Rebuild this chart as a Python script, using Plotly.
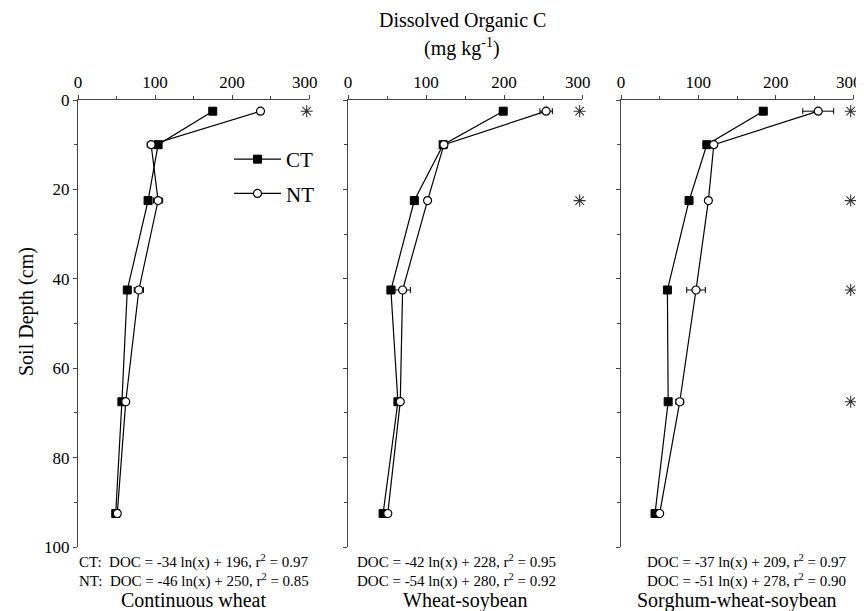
import plotly.graph_objects as go

# ---- data ----
depths = [2.5, 10, 22.5, 42.5, 67.5, 92.5]

panels = ["Continuous wheat", "Wheat-soybean", "Sorghum-wheat-soybean"]

ct_vals = [
    [175, 104, 91, 64, 57, 49],
    [199, 122, 85, 55, 64, 45],
    [184, 111, 88, 60, 61, 44],
]
nt_vals = [
    [237, 95, 104, 79, 62, 51],
    [254, 123, 102, 70, 67, 51],
    [255, 120, 113, 97, 76, 50],
]
ct_err = [
    [2, 3, 4, 3, 2, 2],
    [3, 3, 2, 3, 3, 3],
    [3, 4, 3, 2, 3, 3],
]
nt_err = [
    [3, 5, 6, 6, 3, 2],
    [8, 3, 3, 10, 3, 2],
    [20, 3, 3, 12, 5, 2],
]
star_depths = [
    [2.5],
    [2.5, 22.5],
    [2.5, 22.5, 42.5, 67.5],
]
star_x = 297

eq_ct = [
    "CT:  DOC = -34 ln(x) + 196, r<sup>2</sup> = 0.97",
    "DOC = -42 ln(x) + 228, r<sup>2</sup> = 0.95",
    "DOC = -37 ln(x) + 209, r<sup>2</sup> = 0.97",
]
eq_nt = [
    "NT:  DOC = -46 ln(x) + 250, r<sup>2</sup> = 0.85",
    "DOC = -54 ln(x) + 280, r<sup>2</sup> = 0.92",
    "DOC = -51 ln(x) + 278, r<sup>2</sup> = 0.90",
]

x_ticks = [0, 100, 200, 300]
x_ticktext = ["0", "100", "200",
              "300<span style='color:rgba(0,0,0,0)'>0</span>"]
x_minor = [50, 150, 250]
y_ticks = [0, 20, 40, 60, 80, 100]
y_minor = [10, 30, 50, 70, 90]

# ---- layout geometry (screen pixels; page body has an 8px margin) ----
OFF = 8
W, H = 864 - OFF, 611 - OFF


def px(sx):
    return (sx - OFF) / W


def py(sy):
    return 1 - (sy - OFF) / H


x_dom_px = [(78, 309), (348, 582), (621, 853)]
y_top_px, y_bot_px = 100, 547
eq_left_px = [77, 355, 645]

FONT = "Liberation Serif"

fig = go.Figure()

for i in range(3):
    xa = "x" if i == 0 else f"x{i+1}"
    ya = "y" if i == 0 else f"y{i+1}"
    fig.add_trace(go.Scatter(
        x=ct_vals[i], y=depths, xaxis=xa, yaxis=ya,
        mode="lines+markers", name="CT", showlegend=(i == 0),
        line=dict(color="black", width=1.2),
        marker=dict(symbol="square", size=8, color="black",
                    line=dict(color="black", width=1)),
        error_x=dict(type="data", array=ct_err[i], color="black",
                     thickness=1, width=3),
        legendgroup="ct",
    ))
    fig.add_trace(go.Scatter(
        x=nt_vals[i], y=depths, xaxis=xa, yaxis=ya,
        mode="lines+markers", name="NT", showlegend=(i == 0),
        line=dict(color="black", width=1.2),
        marker=dict(symbol="circle", size=8, color="white",
                    line=dict(color="black", width=1.2)),
        error_x=dict(type="data", array=nt_err[i], color="black",
                     thickness=1, width=3),
        legendgroup="nt",
    ))
    fig.add_trace(go.Scatter(
        x=[star_x] * len(star_depths[i]), y=star_depths[i],
        xaxis=xa, yaxis=ya, mode="markers",
        marker=dict(symbol="asterisk-open", size=10, color="#333",
                    line=dict(color="#333", width=1.1)),
        showlegend=False, hoverinfo="skip", cliponaxis=False,
    ))

    dom = [px(x_dom_px[i][0]), px(x_dom_px[i][1])]
    xkey = "xaxis" if i == 0 else f"xaxis{i+1}"
    ykey = "yaxis" if i == 0 else f"yaxis{i+1}"
    fig.layout[xkey] = dict(
        domain=dom, range=[0, 300], side="top", anchor=ya, automargin=False,
        tickvals=x_ticks, ticktext=x_ticktext,
        ticks="outside", ticklen=4, tickcolor="#444",
        minor=dict(tickvals=x_minor, ticks="outside", ticklen=3, tickcolor="#444"),
        showline=True, linecolor="#444", linewidth=1, showgrid=False,
        zeroline=False, ticklabeloverflow="allow",
        tickfont=dict(family=FONT, size=17, color="black"),
    )
    fig.layout[ykey] = dict(
        domain=[py(y_bot_px), py(y_top_px)], range=[100, 0],
        anchor=xa, automargin=False,
        tickvals=y_ticks, ticks="outside", ticklen=4, tickcolor="#444",
        minor=dict(tickvals=y_minor, ticks="outside", ticklen=3, tickcolor="#444"),
        showticklabels=(i == 0), showline=True, linecolor="#444", linewidth=1,
        showgrid=False, zeroline=False, ticklabeloverflow="allow",
        tickfont=dict(family=FONT, size=17, color="black"),
    )

    # equations and panel names
    fig.add_annotation(
        x=px(eq_left_px[i]), y=py(561), xref="paper", yref="paper",
        text=eq_ct[i], showarrow=False, xanchor="left", yanchor="middle",
        font=dict(family=FONT, size=15, color="black"),
    )
    fig.add_annotation(
        x=px(eq_left_px[i]), y=py(580), xref="paper", yref="paper",
        text=eq_nt[i], showarrow=False, xanchor="left", yanchor="middle",
        font=dict(family=FONT, size=15, color="black"),
    )
    cx = (x_dom_px[i][0] + x_dom_px[i][1]) / 2
    fig.add_annotation(
        x=px(cx), y=py(600), xref="paper", yref="paper",
        text=panels[i], showarrow=False, xanchor="center", yanchor="middle",
        font=dict(family=FONT, size=20, color="black"),
    )

# titles
fig.add_annotation(x=px(462), y=py(20), xref="paper", yref="paper",
                   text="Dissolved Organic C", showarrow=False,
                   xanchor="center", yanchor="middle",
                   font=dict(family=FONT, size=20, color="black"))
fig.add_annotation(x=px(462), y=py(47), xref="paper", yref="paper",
                   text="(mg kg<sup>-1</sup>)", showarrow=False,
                   xanchor="center", yanchor="middle",
                   font=dict(family=FONT, size=20, color="black"))
fig.add_annotation(x=px(26), y=py(312), xref="paper", yref="paper",
                   text="Soil Depth (cm)", showarrow=False, textangle=-90,
                   xanchor="center", yanchor="middle",
                   font=dict(family=FONT, size=20, color="black"))

fig.update_layout(
    template="none",
    width=W, height=H, margin=dict(l=0, r=0, t=0, b=0, autoexpand=False),
    paper_bgcolor="white", plot_bgcolor="white",
    showlegend=True,
    legend=dict(x=px(229), y=py(139), xanchor="left", yanchor="top",
                bgcolor="rgba(0,0,0,0)", font=dict(family=FONT, size=21, color="black"),
                tracegroupgap=4, itemwidth=47),
)

fig.write_html("out.html")
